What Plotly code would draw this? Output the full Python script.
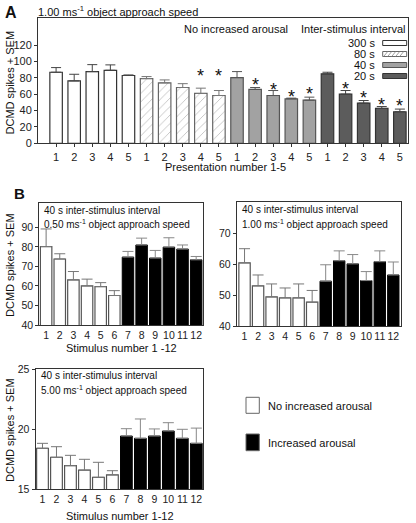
import plotly.graph_objects as go

# ---------------- data ----------------
presentation_labels = ["1", "2", "3", "4", "5"]
isi_groups = ["300 s", "80 s", "40 s", "20 s"]

a_mean_300 = [87.0, 76.4, 87.8, 89.4, 83.0]
a_sem_300 = [5.7, 8.1, 8.5, 6.6, 0.7]
a_mean_80 = [79.3, 74.0, 68.3, 61.0, 58.5]
a_sem_80 = [2.4, 3.6, 4.7, 6.5, 6.1]
a_mean_40 = [80.5, 65.9, 58.5, 54.5, 52.8]
a_sem_40 = [7.3, 2.4, 6.1, 0.8, 3.7]
a_mean_20 = [85.0, 60.2, 49.2, 42.7, 38.6]
a_sem_20 = [2.0, 4.4, 3.2, 2.3, 3.3]

# significance stars (index in 1..20 sequence, height in spikes)
a_star_index = [8, 9, 11, 12, 13, 14, 16, 17, 18, 19]
a_star_level = [88, 88, 78, 71.5, 63, 66, 73, 62, 52.5, 52]

stimulus_labels = [str(i) for i in range(1, 13)]

b1_mean = [80.2, 73.8, 63.1, 60.0, 59.7, 55.1, 74.8, 81.0, 74.3, 79.9, 78.9, 73.4]
b1_sem = [9.0, 2.7, 4.3, 3.5, 2.0, 2.5, 2.9, 3.5, 3.9, 4.8, 2.1, 1.7]

b2_mean = [60.4, 53.0, 49.4, 49.1, 49.1, 47.7, 54.5, 61.1, 60.1, 54.7, 60.8, 56.5]
b2_sem = [4.6, 3.5, 4.2, 3.2, 4.5, 3.8, 5.3, 3.2, 3.0, 2.9, 3.5, 4.2]

b3_mean = [18.42, 17.67, 16.97, 16.6, 16.0, 16.2, 19.44, 19.25, 19.44, 19.86, 19.25, 18.83]
b3_sem = [0.41, 0.88, 0.86, 0.9, 1.25, 0.35, 0.61, 1.61, 0.59, 0.69, 0.75, 1.27]

# ---------------- helpers ----------------
W, H = 416, 523
FONT = "Liberation Sans, Arial, sans-serif"


def px(x):
    return x / W


def py(y):
    return 1 - y / H


fig = go.Figure()

# ---------------- panel A ----------------
a_groups = [
    (a_mean_300, a_sem_300, dict(color="white", line=dict(color="#333", width=1.2)), "#444"),
    (a_mean_80, a_sem_80, dict(color="white", line=dict(color="#666", width=1.2),
                               pattern=dict(shape="/", fgcolor="#888", bgcolor="white", size=6, solidity=0.15)), "#777"),
    (a_mean_40, a_sem_40, dict(color="#a2a2a2", line=dict(color="#555", width=1.2)), "#555"),
    (a_mean_20, a_sem_20, dict(color="#5c5c5c", line=dict(color="#333", width=1.2)), "#444"),
]
for gi, (means, sems, marker, ecol) in enumerate(a_groups):
    xs = [gi * len(presentation_labels) + i for i in range(len(means))]
    fig.add_trace(go.Bar(
        x=xs, y=means, width=0.69, marker=marker, name=isi_groups[gi],
        error_y=dict(type="data", symmetric=False, array=sems, arrayminus=[0] * len(sems),
                     color=ecol, thickness=1, width=5),
        xaxis="x", yaxis="y", showlegend=False,
    ))

for idx, lvl in zip(a_star_index, a_star_level):
    fig.add_annotation(x=idx, y=lvl, xref="x", yref="y", text="*", showarrow=False,
                       font=dict(family=FONT, size=18, color="#111"), yshift=-5)

# ---------------- panels B ----------------
def add_b(means, sems, xa, ya):
    n_half = len(means) // 2
    fig.add_trace(go.Bar(
        x=list(range(n_half)), y=means[:n_half], width=0.84,
        marker=dict(color="white", line=dict(color="#555", width=1.2)),
        error_y=dict(type="data", symmetric=False, array=sems[:n_half], arrayminus=[0] * n_half,
                     color="#777", thickness=1, width=5.5),
        xaxis=xa, yaxis=ya, showlegend=False,
    ))
    fig.add_trace(go.Bar(
        x=list(range(n_half, len(means))), y=means[n_half:], width=0.84,
        marker=dict(color="black", line=dict(color="black", width=1)),
        error_y=dict(type="data", symmetric=False, array=sems[n_half:], arrayminus=[0] * n_half,
                     color="#888", thickness=1, width=5.5),
        xaxis=xa, yaxis=ya, showlegend=False,
    ))


add_b(b1_mean, b1_sem, "x2", "y2")
add_b(b2_mean, b2_sem, "x3", "y3")
add_b(b3_mean, b3_sem, "x4", "y4")

# ---------------- axes ----------------
axcommon = dict(showline=True, linecolor="#333", linewidth=1, mirror=True, showgrid=False,
                zeroline=False, automargin=False)
tf_a = dict(family=FONT, size=11, color="#222")
tf_b = dict(family=FONT, size=10.5, color="#222")

xa_ticktext = presentation_labels * len(isi_groups)
fig.update_layout(
    xaxis=dict(domain=[px(38), px(408)], range=[-1.0, 19.45], tickmode="array",
               tickvals=list(range(20)), ticktext=xa_ticktext, ticks="outside", ticklen=3,
               tickcolor="#333", anchor="y", tickangle=0, tickfont=tf_a, **axcommon),
    yaxis=dict(domain=[py(143.3), py(18)], range=[0, 153.4], tickvals=[0, 20, 40, 60, 80, 100, 120],
               ticks="outside", ticklen=3, tickcolor="#333", anchor="x", tickfont=tf_a, **axcommon),
    xaxis2=dict(domain=[px(39.3), px(203)], range=[-0.5, 11.5], tickmode="array",
                tickvals=list(range(12)), ticktext=stimulus_labels, ticks="", anchor="y2",
                tickangle=0, tickfont=tf_b, **axcommon),
    yaxis2=dict(domain=[py(325), py(203)], range=[40, 102.5], tickvals=[40, 50, 60, 70, 80, 90],
                ticks="outside", ticklen=3, tickcolor="#333", anchor="x2", tickfont=tf_b, **axcommon),
    xaxis3=dict(domain=[px(236.7), px(401)], range=[-0.58, 11.57], tickmode="array",
                tickvals=list(range(12)), ticktext=stimulus_labels, ticks="", anchor="y3",
                tickangle=0, tickfont=tf_b, **axcommon),
    yaxis3=dict(domain=[py(326), py(201.7)], range=[40, 80.2], tickvals=[40, 50, 60, 70],
                ticks="outside", ticklen=3, tickcolor="#333", anchor="x3", tickfont=tf_b, **axcommon),
    xaxis4=dict(domain=[px(35.5), px(203.3)], range=[-0.5, 11.5], tickmode="array",
                tickvals=list(range(12)), ticktext=stimulus_labels, ticks="", anchor="y4",
                tickangle=0, tickfont=tf_b, **axcommon),
    yaxis4=dict(domain=[py(489.3), py(369.3)], range=[15, 25], tickvals=[15, 20, 25],
                ticks="outside", ticklen=3, tickcolor="#333", anchor="x4", tickfont=tf_b, **axcommon),
)

# ---------------- text ----------------
def txt(x, y, s, size=11, anchor="left", bold=False, angle=0, color="#111"):
    fig.add_annotation(x=px(x), y=py(y), xref="paper", yref="paper", text=("<b>%s</b>" % s) if bold else s,
                       showarrow=False, xanchor=anchor, yanchor="middle", textangle=angle,
                       font=dict(family=FONT, size=size, color=color))


txt(3, 12.5, "A", size=16, bold=True)
txt(36, 10.5, "1.00 ms<sup>-1</sup> object approach speed", size=11)
txt(182, 29.5, "No increased arousal", size=11)
txt(408, 29.5, "Inter-stimulus interval", size=11, anchor="right")
txt(10, 82.5, "DCMD spikes + SEM", size=11, anchor="center", angle=-90)
txt(225, 167, "Presentation number 1-5", size=11, anchor="center")

# legend for panel A
leg_y = [43, 54, 65, 76]
sw_x0, sw_x1 = 382.7, 406.7
sw_fill = ["white", "white", "#a2a2a2", "#5c5c5c"]
sw_line = ["#333", "#666", "#555", "#333"]
for i, lab in enumerate(isi_groups):
    txt(377, leg_y[i], lab, size=11, anchor="right")
    fig.add_shape(type="rect", xref="paper", yref="paper",
                  x0=px(sw_x0), x1=px(sw_x1), y0=py(leg_y[i] + 2.5), y1=py(leg_y[i] - 2.5),
                  fillcolor=sw_fill[i], line=dict(color=sw_line[i], width=1))
    if i == 1:
        xx = sw_x0 + 1
        while xx + 4 <= sw_x1:
            fig.add_shape(type="line", xref="paper", yref="paper",
                          x0=px(xx), y0=py(leg_y[i] + 2.5), x1=px(xx + 4), y1=py(leg_y[i] - 2.5),
                          line=dict(color="#888", width=0.8))
            xx += 4

txt(11.5, 193.5, "B", size=15, bold=True)
# B1
txt(42, 210, "40 s inter-stimulus interval", size=10)
txt(42, 223.5, "0.50 ms<sup>-1</sup> object approach speed", size=10)
txt(10, 265, "DCMD spikes + SEM", size=11, anchor="center", angle=-90)
txt(121, 348, "Stimulus number 1 -12", size=11, anchor="center")
# B2
txt(240, 209.5, "40 s inter-stimulus interval", size=10)
txt(240, 223.5, "1.00 ms<sup>-1</sup> object approach speed", size=10)
# B3
txt(38.5, 375, "40 s inter-stimulus interval", size=10)
txt(38.5, 390, "5.00 ms<sup>-1</sup> object approach speed", size=10)
txt(10, 430, "DCMD spikes + SEM", size=11, anchor="center", angle=-90)
txt(120, 516, "Stimulus number 1-12", size=11, anchor="center")

# legend for panel B
fig.add_shape(type="rect", xref="paper", yref="paper", x0=px(246), x1=px(259.3), y0=py(413.3), y1=py(397.3),
              fillcolor="white", line=dict(color="#666", width=1))
fig.add_shape(type="rect", xref="paper", yref="paper", x0=px(246), x1=px(259.3), y0=py(450.7), y1=py(434),
              fillcolor="black", line=dict(color="#666", width=1))
txt(266, 405.5, "No increased arousal", size=11)
txt(266, 442.5, "Increased arousal", size=11)

fig.update_layout(
    width=W, height=H, autosize=False, margin=dict(l=0, r=0, t=0, b=0, pad=0),
    paper_bgcolor="white", plot_bgcolor="white", barmode="overlay",
    font=dict(family=FONT, size=11, color="#111"), showlegend=False,
)

fig.write_html("out.html", config={"displayModeBar": False},
               post_script="document.body.style.margin='0';document.body.style.padding='0';")
